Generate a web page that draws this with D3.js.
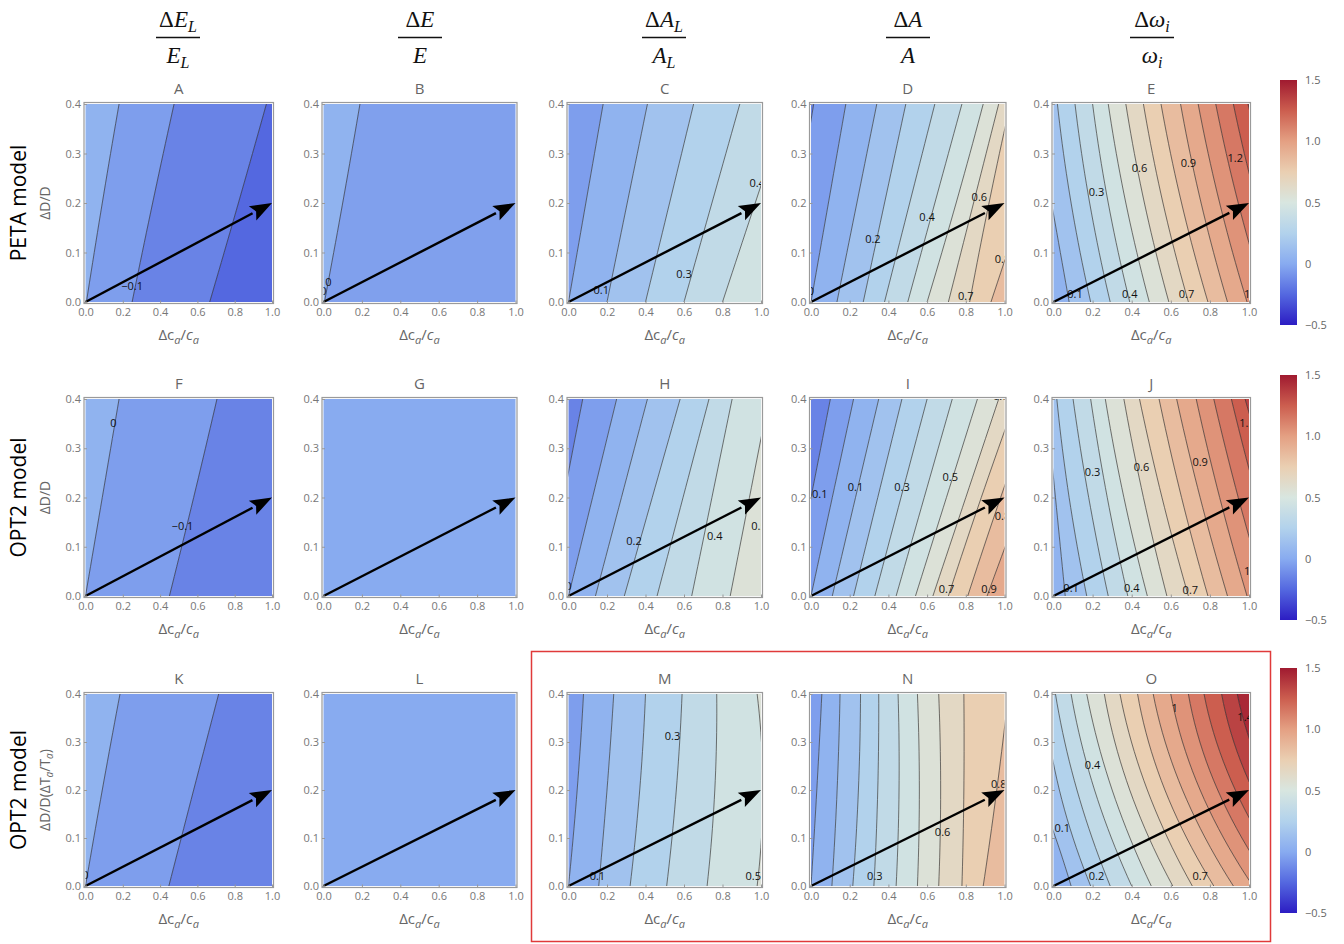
<!DOCTYPE html>
<html>
<head>
<meta charset="utf-8">
<script src="https://cdn.jsdelivr.net/npm/d3@7"></script>
<style>
  body { margin: 0; background: #fff; }
  text { font-family: "Open Sans", "DejaVu Sans", sans-serif; }
  text.serif { font-family: "Liberation Serif", "DejaVu Serif", serif; }
</style>
</head>
<body>
<svg id="chart" width="1344" height="944"></svg>
<script>
// colour map (value -> colour)
const cmapValues = [-0.5, -0.25, 0, 0.25, 0.5, 0.75, 1.0, 1.25, 1.5];
const cmapColours = ["#2c1dc3", "#5468e0", "#88abf0", "#b2d2ec", "#d8e6e0", "#eacfb2", "#e4a083", "#cc5e4f", "#a01a30"];
const colorbarTicks = [-0.5, 0, 0.5, 1.0, 1.5];

const xTicks = [0, 0.2, 0.4, 0.6, 0.8, 1.0];
const yTicks = [0, 0.1, 0.2, 0.3, 0.4];

const panelNames = ["A","B","C","D","E","F","G","H","I","J","K","L","M","N","O"];
const rowNames = ["PETA model", "OPT2 model", "OPT2 model"];
const yLabelsRow = ["ΔD/D", "ΔD/D", "ΔD/D(ΔT_a/T_a)"];

// contour lines: [level, x at y=0, x at y=0.2, x at y=0.4]
const linesA = [[0, 0.005, 0.09, 0.18], [-0.1, 0.25, 0.36, 0.475], [-0.2, 0.666, 0.82, 0.97]];
const linesB = [[0, 0.005, 0.1, 0.19]];
const linesC = [[0, 0, 0.09, 0.18], [0.1, 0.2, 0.305, 0.41], [0.2, 0.4, 0.525, 0.65], [0.3, 0.6, 0.745, 0.89], [0.4, 0.8, 0.97, 1.14]];
const linesD = [[-0.1, -0.15, -0.07, 0.014], [0, 0, 0.09, 0.18], [0.1, 0.134, 0.237, 0.34], [0.2, 0.27, 0.38, 0.49],
  [0.3, 0.38, 0.51, 0.64], [0.4, 0.5, 0.64, 0.78], [0.5, 0.6, 0.75, 0.89], [0.6, 0.71, 0.84, 0.97],
  [0.7, 0.82, 0.92, 1.03], [0.8, 0.93, 1.1, 1.27]];
const linesE = [[0.1, 0.08, -0.01, -0.10], [0.2, 0.19, 0.09, 0.02], [0.3, 0.29, 0.185, 0.11], [0.4, 0.39, 0.28, 0.20],
  [0.5, 0.49, 0.37, 0.28], [0.6, 0.59, 0.465, 0.37], [0.7, 0.69, 0.56, 0.46], [0.8, 0.79, 0.655, 0.55],
  [0.9, 0.89, 0.755, 0.65], [1.0, 0.99, 0.85, 0.74], [1.1, 1.09, 0.945, 0.83], [1.2, 1.19, 1.04, 0.92],
  [1.3, 1.29, 1.13, 0.995]];
const linesF = [[0, 0, 0.09, 0.18], [-0.1, 0.45, 0.58, 0.705]];
const linesG = [];
const linesH = [[-0.1, -0.12, -0.025, 0.074], [0, 0, 0.125, 0.25], [0.1, 0.14, 0.275, 0.41], [0.2, 0.29, 0.435, 0.58],
  [0.3, 0.46, 0.595, 0.73], [0.4, 0.64, 0.745, 0.85], [0.5, 0.84, 0.94, 1.04]];
const linesI = [[-0.1, -0.1, 0, 0.1], [0, 0, 0.11, 0.22], [0.1, 0.11, 0.23, 0.35], [0.2, 0.22, 0.345, 0.47],
  [0.3, 0.33, 0.465, 0.60], [0.4, 0.44, 0.585, 0.73], [0.5, 0.54, 0.70, 0.86], [0.6, 0.63, 0.80, 0.97],
  [0.7, 0.71, 0.88, 1.06], [0.8, 0.81, 0.98, 1.16], [0.9, 0.91, 1.1, 1.3]];
const linesJ = [[0.1, 0.06, 0.01, -0.04], [0.2, 0.17, 0.08, 0.017], [0.3, 0.28, 0.18, 0.10], [0.4, 0.38, 0.275, 0.19],
  [0.5, 0.48, 0.36, 0.265], [0.6, 0.58, 0.46, 0.36], [0.7, 0.69, 0.555, 0.44], [0.8, 0.79, 0.655, 0.54],
  [0.9, 0.89, 0.75, 0.63], [1.0, 0.99, 0.85, 0.73], [1.1, 1.09, 0.945, 0.82], [1.2, 1.19, 1.04, 0.91],
  [1.3, 1.29, 1.13, 0.98]];
const linesK = [[0, 0, 0.09, 0.185], [-0.1, 0.447, 0.58, 0.714]];
const linesL = [];
const linesM = [[0, 0, 0.045, 0.078], [0.1, 0.157, 0.2, 0.235], [0.2, 0.32, 0.37, 0.40], [0.3, 0.51, 0.56, 0.59],
  [0.4, 0.72, 0.76, 0.77], [0.5, 0.98, 1.01, 0.98]];
const linesN = [[0, 0, 0.03, 0.056], [0.1, 0.108, 0.135, 0.15], [0.2, 0.216, 0.245, 0.256], [0.3, 0.325, 0.345, 0.35],
  [0.4, 0.44, 0.455, 0.45], [0.5, 0.55, 0.56, 0.55], [0.6, 0.66, 0.67, 0.66], [0.7, 0.78, 0.79, 0.79],
  [0.8, 0.89, 0.96, 1.02]];
const linesO = [[0.1, 0.09, -0.08, -0.3], [0.2, 0.19, 0.03, -0.05], [0.3, 0.29, 0.12, 0.01], [0.4, 0.40, 0.21, 0.09],
  [0.5, 0.50, 0.30, 0.17], [0.6, 0.61, 0.39, 0.26], [0.7, 0.71, 0.48, 0.34], [0.8, 0.82, 0.57, 0.43],
  [0.9, 0.92, 0.66, 0.51], [1.0, 1.02, 0.75, 0.60], [1.1, 1.12, 0.84, 0.69], [1.2, 1.22, 0.93, 0.77],
  [1.3, 1.32, 1.02, 0.86], [1.4, 1.42, 1.11, 0.94], [1.5, 1.52, 1.2, 1.02]];

// band values, left to right (one more than lines)
const bandsA = [0.05, -0.05, -0.15, -0.25];
const bandsB = [0.05, -0.04];
const bandsC = [-0.05, 0.05, 0.15, 0.25, 0.35, 0.45];
const bandsD = [-0.15, -0.05, 0.05, 0.15, 0.25, 0.35, 0.45, 0.55, 0.65, 0.75, 0.85];
const bandsE = [0.05, 0.15, 0.25, 0.35, 0.45, 0.55, 0.65, 0.75, 0.85, 0.95, 1.05, 1.15, 1.25, 1.35];
const bandsF = [0.05, -0.05, -0.15];
const bandsG = [0.0];
const bandsH = [-0.15, -0.05, 0.05, 0.15, 0.25, 0.35, 0.45, 0.55];
const bandsI = [-0.15, -0.05, 0.05, 0.15, 0.25, 0.35, 0.45, 0.55, 0.65, 0.75, 0.85, 0.95];
const bandsJ = [0.05, 0.15, 0.25, 0.35, 0.45, 0.55, 0.65, 0.75, 0.85, 0.95, 1.05, 1.15, 1.25, 1.35];
const bandsK = [0.05, -0.05, -0.15];
const bandsL = [0.0];
const bandsM = [-0.05, 0.05, 0.15, 0.25, 0.35, 0.45, 0.55];
const bandsN = [-0.05, 0.05, 0.15, 0.25, 0.35, 0.45, 0.55, 0.65, 0.75, 0.85];
const bandsO = [0.05, 0.15, 0.25, 0.35, 0.45, 0.55, 0.65, 0.75, 0.85, 0.95, 1.05, 1.15, 1.25, 1.35, 1.45, 1.55];

// contour labels: [text, x, y, anchor]
const labelsA = [["−0.1", 0.25, 0.02]];
const labelsB = [["0", 0.025, 0.03], ["0", 0.0, 0.01]];
const labelsC = [["0.1", 0.17, 0.012], ["0.3", 0.6, 0.045], ["0.4", 0.98, 0.23]];
const labelsD = [["0", 0.0, 0.01], ["0.2", 0.32, 0.115], ["0.4", 0.6, 0.16], ["0.6", 0.87, 0.2], ["0.8", 0.99, 0.075], ["0.7", 0.8, 0.0]];
const labelsE = [["0.1", 0.11, 0.005], ["0.3", 0.22, 0.21], ["0.6", 0.44, 0.26], ["0.9", 0.69, 0.27], ["1.2", 0.93, 0.28],
  ["0.4", 0.39, 0.005], ["0.7", 0.68, 0.005], ["1", 0.99, 0.005]];
const labelsF = [["0", 0.15, 0.34], ["−0.1", 0.52, 0.13]];
const labelsG = [];
const labelsH = [["0", 0.0, 0.008], ["0.2", 0.34, 0.1], ["0.4", 0.76, 0.11], ["0.5", 0.99, 0.13]];
const labelsI = [["0.1", 0.0, 0.195, "start"], ["0.1", 0.23, 0.21], ["0.3", 0.47, 0.21], ["0.5", 0.72, 0.23], ["0.8", 0.99, 0.15],
  ["0.7", 0.7, 0.002], ["0.9", 0.92, 0.002], ["0.6", 0.98, 0.395]];
const labelsJ = [["0.1", 0.09, 0.005], ["0.4", 0.4, 0.005], ["0.7", 0.7, 0.0], ["1", 0.99, 0.04],
  ["0.3", 0.2, 0.24], ["0.6", 0.45, 0.25], ["0.9", 0.75, 0.26], ["1.2", 0.99, 0.34]];
const labelsK = [["0", 0.0, 0.012]];
const labelsL = [];
const labelsM = [["0.1", 0.15, 0.01], ["0.3", 0.54, 0.3], ["0.5", 0.96, 0.01]];
const labelsN = [["0.3", 0.33, 0.01], ["0.6", 0.68, 0.1], ["0.8", 0.97, 0.2]];
const labelsO = [["0.1", 0.0, 0.11, "start"], ["0.2", 0.22, 0.01], ["0.4", 0.2, 0.24], ["0.7", 0.75, 0.01], ["1", 0.62, 0.36], ["1.4", 0.98, 0.34]];

const panelLines = [linesA, linesB, linesC, linesD, linesE, linesF, linesG, linesH, linesI, linesJ, linesK, linesL, linesM, linesN, linesO];
const panelBands = [bandsA, bandsB, bandsC, bandsD, bandsE, bandsF, bandsG, bandsH, bandsI, bandsJ, bandsK, bandsL, bandsM, bandsN, bandsO];
const panelLabels = [labelsA, labelsB, labelsC, labelsD, labelsE, labelsF, labelsG, labelsH, labelsI, labelsJ, labelsK, labelsL, labelsM, labelsN, labelsO];

// layout
const colX = [85.5, 323.5, 568.5, 811, 1053.5];
const colW = [186.5, 192, 192.5, 193.5, 195.5];
const rowY = [104, 399, 694];
const rowH = [198, 197, 192];
const headerX = [178, 420, 664, 908, 1152];

const svg = d3.select("#chart");
const color = d3.scaleLinear().domain(cmapValues).range(cmapColours).clamp(true);

// x(y) through the three read points
function lineX(l, y) {
  const t = y / 0.2;
  const a = l[1], b = l[2], c = l[3];
  return a * (1 - t) * (2 - t) / 2 + b * t * (2 - t) + c * t * (t - 1) / 2;
}
const ys = d3.range(0, 0.4001, 0.02);

panelNames.forEach((name, i) => {
  const r = Math.floor(i / 5), c = i % 5;
  const x = d3.scaleLinear().domain([0, 1]).range([colX[c], colX[c] + colW[c]]);
  const y = d3.scaleLinear().domain([0, 0.4]).range([rowY[r] + rowH[r], rowY[r]]);
  const g = svg.append("g");
  const clipId = "clip" + name;
  svg.append("clipPath").attr("id", clipId).append("rect")
    .attr("x", x(0)).attr("y", y(0.4)).attr("width", x(1) - x(0)).attr("height", y(0) - y(0.4));
  const plot = g.append("g").attr("clip-path", `url(#${clipId})`);

  const lines = panelLines[i], bands = panelBands[i];
  bands.forEach((v, k) => {
    const left = k === 0 ? null : lines[k - 1];
    const right = k === lines.length ? null : lines[k];
    const pts = ys.map(yy => [left ? lineX(left, yy) : -1, yy])
      .concat(ys.slice().reverse().map(yy => [right ? lineX(right, yy) : 2, yy]));
    plot.append("path")
      .attr("d", d3.line().x(d => x(d[0])).y(d => y(d[1]))(pts) + "Z")
      .attr("fill", color(v)).attr("stroke", color(v)).attr("stroke-width", 0.5);
  });
  lines.forEach(l => {
    plot.append("path")
      .attr("d", d3.line().x(d => x(d[0])).y(d => y(d[1]))(ys.map(yy => [lineX(l, yy), yy])))
      .attr("fill", "none").attr("stroke", "#333").attr("stroke-width", 0.8).attr("stroke-opacity", 0.85);
  });
  panelLabels[i].forEach(lb => {
    plot.append("text").attr("x", x(lb[1]) + (lb[3] ? 1 : 0)).attr("y", y(lb[2]))
      .attr("text-anchor", lb[3] || "middle").attr("dy", "-0.15em")
      .attr("font-size", 11).attr("fill", "#111").text(lb[0]);
  });

  // arrow
  const x0 = x(0), y0 = y(0), x1 = x(1), y1 = y(0.2);
  const ang = Math.atan2(y1 - y0, x1 - x0);
  const hl = 22, hw = 8;
  const bx = x1 - hl * Math.cos(ang), by = y1 - hl * Math.sin(ang);
  g.append("line").attr("x1", x0).attr("y1", y0).attr("x2", bx).attr("y2", by)
    .attr("stroke", "#000").attr("stroke-width", 2.4);
  g.append("path").attr("fill", "#000").attr("d",
    `M${x1},${y1}L${bx - hw * Math.sin(ang)},${by + hw * Math.cos(ang)}L${bx + 4 * Math.cos(ang)},${by + 4 * Math.sin(ang)}L${bx + hw * Math.sin(ang)},${by - hw * Math.cos(ang)}Z`);

  // frame
  g.append("rect").attr("x", x(0) - 1.5).attr("y", y(0.4) - 1.5)
    .attr("width", x(1) - x(0) + 3).attr("height", y(0) - y(0.4) + 3)
    .attr("fill", "none").attr("stroke", "#9a9a9a").attr("stroke-width", 1.2);

  const xa = g.append("g").attr("transform", `translate(0,${y(0) + 1.5})`)
    .call(d3.axisBottom(x).tickValues(xTicks).tickFormat(d3.format(".1f")).tickSize(-3).tickPadding(5));
  const ya = g.append("g").attr("transform", `translate(${x(0) - 1.5},0)`)
    .call(d3.axisLeft(y).tickValues(yTicks).tickFormat(d3.format(".1f")).tickSize(-3).tickPadding(3));
  [xa, ya].forEach(a => {
    a.select(".domain").remove();
    a.selectAll("line").attr("stroke", "#999");
    a.selectAll("text").attr("fill", "#777").attr("font-size", 11);
  });

  g.append("text").attr("x", (x(0) + x(1)) / 2).attr("y", y(0.4) - 10)
    .attr("text-anchor", "middle").attr("font-size", 15).attr("fill", "#666").text(name);

  const xl = g.append("text").attr("x", (x(0) + x(1)) / 2).attr("y", y(0) + 38)
    .attr("text-anchor", "middle").attr("font-size", 15).attr("fill", "#666");
  xl.append("tspan").text("Δc");
  xl.append("tspan").attr("font-size", 11).attr("font-style", "italic").attr("dy", 4).text("a");
  xl.append("tspan").attr("dy", -4).text("/");
  xl.append("tspan").attr("font-style", "italic").text("c");
  xl.append("tspan").attr("font-size", 11).attr("font-style", "italic").attr("dy", 4).text("a");

  if (c === 0) {
    const cy = (y(0) + y(0.4)) / 2;
    const yl = g.append("text").attr("transform", `translate(50,${cy}) rotate(-90)`)
      .attr("text-anchor", "middle").attr("font-size", 14).attr("fill", "#666");
    const parts = yLabelsRow[r].split(/_(\w)/);
    parts.forEach((p, k) => {
      if (k % 2 === 1) yl.append("tspan").attr("font-size", 10).attr("font-style", "italic").attr("dy", 3).text(p);
      else yl.append("tspan").attr("dy", k ? -3 : 0).text(p);
    });
    svg.append("text").attr("transform", `translate(26,${cy}) rotate(-90)`)
      .attr("text-anchor", "middle").attr("font-size", 21).attr("fill", "#000").text(rowNames[r]);
  }
});

// column headers (fractions)
const headerNum = [["E", "L"], ["E", ""], ["A", "L"], ["A", ""], ["ω", "i"]];
const headerDen = [["E", "L"], ["E", ""], ["A", "L"], ["A", ""], ["ω", "i"]];
headerX.forEach((hx, k) => {
  [[headerNum[k], 27, true], [headerDen[k], 63, false]].forEach(([p, yy, delta]) => {
    const t = svg.append("text").attr("class", "serif").attr("x", hx).attr("y", yy).attr("text-anchor", "middle")
      .attr("font-size", 23).attr("fill", "#111");
    if (delta) t.append("tspan").text("Δ");
    t.append("tspan").attr("font-style", "italic").text(p[0]);
    if (p[1]) t.append("tspan").attr("font-style", "italic").attr("font-size", 16).attr("dy", 5).text(p[1]);
  });
  svg.append("line").attr("x1", hx - 22).attr("x2", hx + 22).attr("y1", 37.5).attr("y2", 37.5)
    .attr("stroke", "#111").attr("stroke-width", 1.3);
});

// colour bars
const defs = svg.append("defs");
const grad = defs.append("linearGradient").attr("id", "cbar").attr("x1", 0).attr("x2", 0).attr("y1", 1).attr("y2", 0);
cmapValues.forEach((v, k) => grad.append("stop").attr("offset", k / (cmapValues.length - 1)).attr("stop-color", cmapColours[k]));
const barTops = [80, 375, 668];
barTops.forEach(top => {
  const s = d3.scaleLinear().domain([-0.5, 1.5]).range([top + 245, top]);
  svg.append("rect").attr("x", 1280).attr("y", top).attr("width", 17).attr("height", 245).attr("fill", "url(#cbar)");
  const a = svg.append("g").attr("transform", "translate(1297,0)")
    .call(d3.axisRight(s).tickValues(colorbarTicks).tickFormat(d => d === 0 ? "0" : d3.format(".1f")(d).replace("-", "−")).tickSize(0).tickPadding(8));
  a.select(".domain").remove();
  a.selectAll("text").attr("fill", "#666").attr("font-size", 11);
});

// highlight box
svg.append("rect").attr("x", 531.5).attr("y", 651.5).attr("width", 739).attr("height", 290)
  .attr("fill", "none").attr("stroke", "#e03a3a").attr("stroke-width", 1.5);
</script>
</body>
</html>
